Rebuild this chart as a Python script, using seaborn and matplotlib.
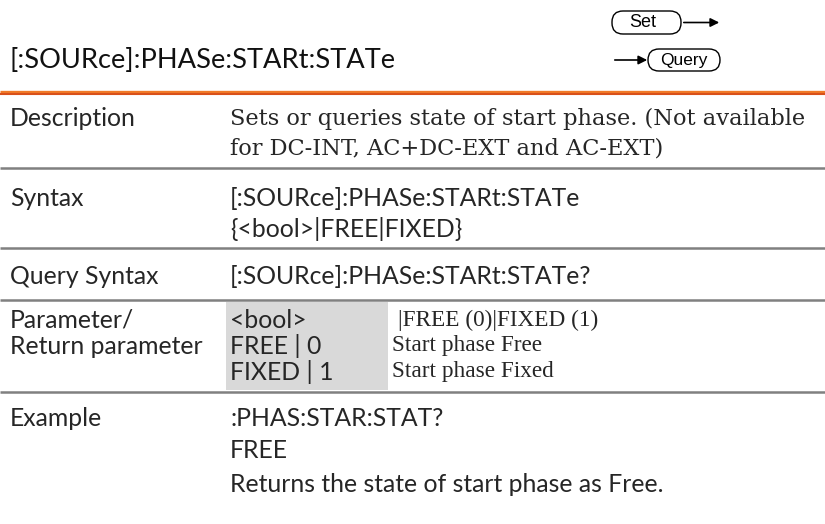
import matplotlib
matplotlib.use("Agg")
import matplotlib.pyplot as plt
import seaborn as sns
from matplotlib.patches import FancyBboxPatch, Rectangle

sns.set_theme(style="white")

# page content
title = "[:SOURce]:PHASe:STARt:STATe"
row_labels = ["Description", "Syntax", "Query Syntax", "Parameter/\nReturn parameter", "Example"]
desc_lines = ["Sets or queries state of start phase. (Not available",
              "for DC-INT, AC+DC-EXT and AC-EXT)"]
syntax_lines = ["[:SOURce]:PHASe:STARt:STATe", "{<bool>|FREE|FIXED}"]
query_syntax = "[:SOURce]:PHASe:STARt:STATe?"
param_names = ["<bool>", "FREE | 0", "FIXED | 1"]
param_desc = ["|FREE (0)|FIXED (1)", "Start phase Free", "Start phase Fixed"]
example_lines = [":PHAS:STAR:STAT?", "FREE", "Returns the state of start phase as Free."]

W, H = 825, 524
fig = plt.figure(figsize=(W / 100, H / 100), dpi=100)
ax = fig.add_axes([0, 0, 1, 1])
ax.set_xlim(0, W)
ax.set_ylim(H, 0)
ax.axis("off")
renderer = fig.canvas.get_renderer()

sans = ["Lato", "DejaVu Sans"]
serif = ["DejaVu Serif"]
times = ["Liberation Serif", "DejaVu Serif"]


def fit_size(text, family, width):
    # font size that makes text span the given pixel width
    t = ax.text(0, 0, text, fontsize=10, family=family)
    w = t.get_window_extent(renderer).width
    t.remove()
    return 10 * width / w


fs_title = fit_size(title, sans, 385)
fs = fit_size("Return parameter", sans, 193)
fs_desc = fit_size(desc_lines[0], serif, 578)
fs_times = fit_size("Start phase Free", times, 150)

x_lab, x_val, x_desc = 10, 230, 392

# header
ax.text(x_lab, 61, title, fontsize=fs_title, family=sans, va="center", color="#111")
ax.plot([0, W], [92, 92], color="#F07A28", lw=2.4, solid_capstyle="butt")
ax.plot([0, W], [94, 94], color="#D9501A", lw=1.5, solid_capstyle="butt")

# Set / Query badges
badge_font = ["Liberation Sans", "DejaVu Sans"]
ax.add_patch(FancyBboxPatch((612, 11), 69, 23, boxstyle="round,pad=0,rounding_size=11",
                            fc="white", ec="black", lw=1))
ax.text(643, 22.5, "Set", fontsize=13, family=badge_font, ha="center", va="center", color="black")
ax.annotate("", xy=(722, 22.5), xytext=(681, 22.5),
            arrowprops=dict(arrowstyle="-|>", color="black", lw=1.2, mutation_scale=13))
ax.add_patch(FancyBboxPatch((648, 49), 72, 22, boxstyle="round,pad=0,rounding_size=11",
                            fc="white", ec="black", lw=1))
ax.text(684, 60, "Query", fontsize=12.5, family=badge_font, ha="center", va="center", color="black")
ax.annotate("", xy=(650, 60), xytext=(612, 60),
            arrowprops=dict(arrowstyle="-|>", color="black", lw=1.2, mutation_scale=13))

# separators
for y in [168, 248, 300, 392]:
    ax.plot([0, W], [y, y], color="#808080", lw=1.8, solid_capstyle="butt")

# gray box behind parameter names
ax.add_patch(Rectangle((226, 302), 162, 88, fc="#D9D9D9", ec="none"))

# Description
ax.text(x_lab, 119, row_labels[0], fontsize=fs, family=sans, va="center")
for i, s in enumerate(desc_lines):
    ax.text(x_val, 119 + i * 30, s, fontsize=fs_desc, family=serif, va="center")

# Syntax
ax.text(x_lab, 198, row_labels[1], fontsize=fs, family=sans, va="center")
for i, s in enumerate(syntax_lines):
    ax.text(x_val, 198 + i * 31, s, fontsize=fs, family=sans, va="center")

# Query syntax
ax.text(x_lab, 276, row_labels[2], fontsize=fs, family=sans, va="center")
ax.text(x_val, 276, query_syntax, fontsize=fs, family=sans, va="center")

# Parameter
for i, s in enumerate(row_labels[3].split("\n")):
    ax.text(x_lab, 320 + i * 26, s, fontsize=fs, family=sans, va="center")
for i, (n, d) in enumerate(zip(param_names, param_desc)):
    y = 320 + i * 26
    ax.text(x_val, y, n, fontsize=fs, family=sans, va="center")
    ax.text(x_desc + (6 if i == 0 else 0), y, d, fontsize=fs_times, family=times, va="center")

# Example
ax.text(x_lab, 418, row_labels[4], fontsize=fs, family=sans, va="center")
for i, s in enumerate(example_lines):
    ax.text(x_val, 418 + i * 33, s, fontsize=fs, family=sans, va="center")

fig.savefig("out.png", dpi=100, facecolor="white")
